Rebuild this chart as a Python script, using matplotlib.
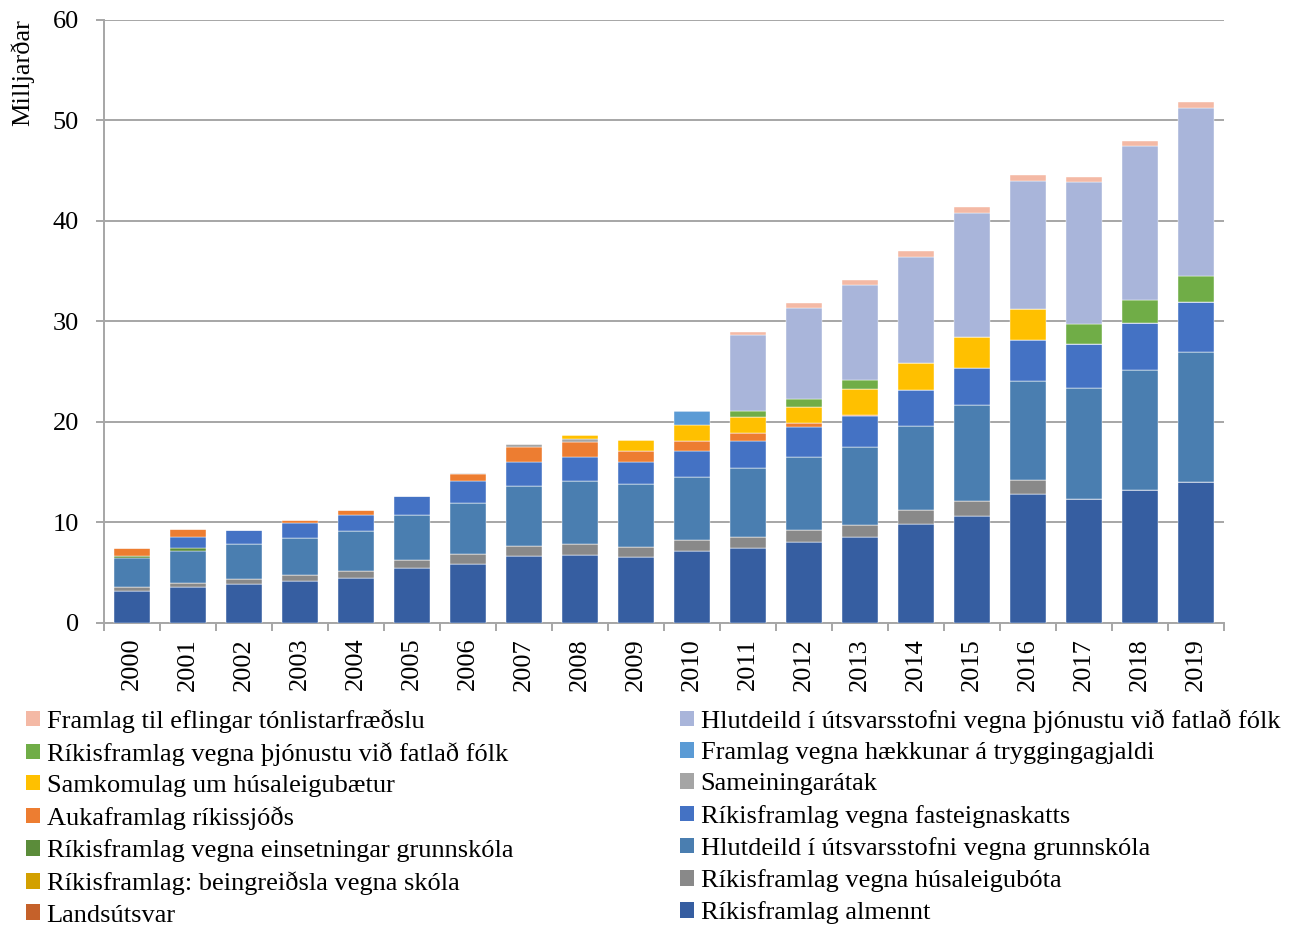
import numpy as np
import matplotlib
matplotlib.use("Agg")
import matplotlib.pyplot as plt
from matplotlib.patches import Patch

plt.rcParams['font.family'] = ['Liberation Serif', 'DejaVu Serif']

years = [str(y) for y in range(2000, 2020)]

# values in milljarðar (stack order bottom -> top)
almennt = [3.17, 3.57, 3.87, 4.17, 4.47, 5.47, 5.86, 6.66, 6.76, 6.56,
           7.16, 7.46, 8.06, 8.56, 9.83, 10.62, 12.78, 12.30, 13.23, 13.95]
landsutsvar = [0] * 20
husaleigubota = [0.33, 0.37, 0.44, 0.53, 0.63, 0.73, 0.94, 0.97, 1.04, 0.97,
                 1.04, 1.06, 1.16, 1.16, 1.41, 1.48, 1.38, 0, 0, 0]
beingreidsla = [0] * 20
grunnskoli = [2.93, 3.19, 3.49, 3.72, 3.99, 4.49, 5.08, 5.95, 6.28, 6.25,
              6.28, 6.85, 7.25, 7.75, 8.28, 9.52, 9.89, 11.03, 11.89, 13.03]
einsetning = [0.23, 0.30, 0, 0, 0, 0, 0, 0, 0, 0,
              0, 0, 0, 0, 0, 0, 0, 0, 0, 0]
fasteignaskattur = [0, 1.13, 1.45, 1.47, 1.66, 1.89, 2.20, 2.45, 2.45, 2.25,
                    2.55, 2.66, 2.99, 3.05, 3.68, 3.71, 4.09, 4.44, 4.67, 4.94]
aukaframlag = [0.77, 0.73, 0, 0.33, 0.47, 0, 0.70, 1.40, 1.40, 1.00,
               1.00, 0.83, 0.36, 0.14, 0, 0, 0, 0, 0, 0]
sameiningaratak = [0, 0, 0, 0, 0, 0, 0.12, 0.34, 0.37, 0,
                   0, 0, 0, 0, 0, 0, 0, 0, 0, 0]
samkomulag = [0, 0, 0, 0, 0, 0, 0, 0, 0.36, 1.10,
              1.59, 1.63, 1.67, 2.62, 2.68, 3.09, 3.10, 0, 0, 0]
tryggingagjald = [0, 0, 0, 0, 0, 0, 0, 0, 0, 0,
                  1.47, 0, 0, 0, 0, 0, 0, 0, 0, 0]
rik_fatlad = [0, 0, 0, 0, 0, 0, 0, 0, 0, 0,
              0, 0.57, 0.79, 0.83, 0, 0, 0, 1.92, 2.37, 2.55]
hlut_fatlad = [0, 0, 0, 0, 0, 0, 0, 0, 0, 0,
               0, 7.53, 9.08, 9.54, 10.55, 12.34, 12.71, 14.16, 15.26, 16.77]
tonlist = [0, 0, 0, 0, 0, 0, 0, 0, 0, 0,
           0, 0.30, 0.50, 0.50, 0.58, 0.61, 0.65, 0.55, 0.55, 0.55]

series = [
    ("Ríkisframlag almennt", almennt, "#365EA1"),
    ("Landsútsvar", landsutsvar, "#C5612A"),
    ("Ríkisframlag vegna húsaleigubóta", husaleigubota, "#898989"),
    ("Ríkisframlag: beingreiðsla vegna skóla", beingreidsla, "#D3A000"),
    ("Hlutdeild í útsvarsstofni vegna grunnskóla", grunnskoli, "#4A7EB0"),
    ("Ríkisframlag vegna einsetningar grunnskóla", einsetning, "#5B8C3A"),
    ("Ríkisframlag vegna fasteignaskatts", fasteignaskattur, "#4472C4"),
    ("Aukaframlag ríkissjóðs", aukaframlag, "#ED7D31"),
    ("Sameiningarátak", sameiningaratak, "#A5A5A5"),
    ("Samkomulag um húsaleigubætur", samkomulag, "#FFC000"),
    ("Framlag vegna hækkunar á tryggingagjaldi", tryggingagjald, "#5B9BD5"),
    ("Ríkisframlag vegna þjónustu við fatlað fólk", rik_fatlad, "#70AD47"),
    ("Hlutdeild í útsvarsstofni vegna þjónustu við fatlað fólk", hlut_fatlad, "#A9B5DA"),
    ("Framlag til eflingar tónlistarfræðslu", tonlist, "#F4B9A5"),
]

FS = 19

fig = plt.figure(figsize=(13.02, 9.33), dpi=100)
ax = fig.add_axes([104 / 1302, 1 - 622.5 / 933, 1120 / 1302, 602.5 / 933])

x = np.arange(len(years))
bottom = np.zeros(len(years))
for name, vals, col in series:
    v = np.array(vals, dtype=float)
    ax.bar(x, v, 0.64, bottom=bottom, color=col, edgecolor='white',
           linewidth=0.3, zorder=3)
    bottom += v

ax.set_xlim(-0.5, len(years) - 0.5)
ax.set_ylim(0, 60)
ax.set_yticks(range(0, 61, 10))
ax.grid(axis='y', color='#A6A6A6', linewidth=1.4, zorder=0)
for s in ['top', 'right']:
    ax.spines[s].set_visible(False)
for s in ['left', 'bottom']:
    ax.spines[s].set_color('#A6A6A6')
    ax.spines[s].set_linewidth(1.4)

ax.set_xticks(x)
ax.set_xticklabels(years, rotation=90, fontsize=FS)
ax.set_xticks(np.arange(-0.5, len(years)), minor=True)
ax.tick_params(axis='x', which='major', length=0, pad=11)
ax.tick_params(axis='x', which='minor', length=6, width=1.4, color='#A6A6A6')
ax.tick_params(axis='y', length=6, width=1.4, color='#A6A6A6', labelsize=FS, pad=12)

fig.text(22 / 1302, 1 - 19 / 933, "Milljarðar", rotation=90, ha='center',
         va='top', fontsize=FS)

# legend: two columns, as in the original
left_names = ["Framlag til eflingar tónlistarfræðslu",
              "Ríkisframlag vegna þjónustu við fatlað fólk",
              "Samkomulag um húsaleigubætur",
              "Aukaframlag ríkissjóðs",
              "Ríkisframlag vegna einsetningar grunnskóla",
              "Ríkisframlag: beingreiðsla vegna skóla",
              "Landsútsvar"]
right_names = ["Hlutdeild í útsvarsstofni vegna þjónustu við fatlað fólk",
               "Framlag vegna hækkunar á tryggingagjaldi",
               "Sameiningarátak",
               "Ríkisframlag vegna fasteignaskatts",
               "Hlutdeild í útsvarsstofni vegna grunnskóla",
               "Ríkisframlag vegna húsaleigubóta",
               "Ríkisframlag almennt"]
colors = {n: c for n, _, c in series}

for names, x0 in [(left_names, 26 / 1302), (right_names, 680 / 1302)]:
    handles = [Patch(facecolor=colors[n], edgecolor='none', label=n) for n in names]
    leg = fig.legend(handles=handles, loc='upper left',
                     bbox_to_anchor=(x0, 1 - 709 / 933), frameon=False,
                     fontsize=FS, handlelength=0.53, handleheight=0.53,
                     handletextpad=0.25, labelspacing=0.35, borderpad=0,
                     borderaxespad=0)

fig.savefig("out.png", dpi=100)
